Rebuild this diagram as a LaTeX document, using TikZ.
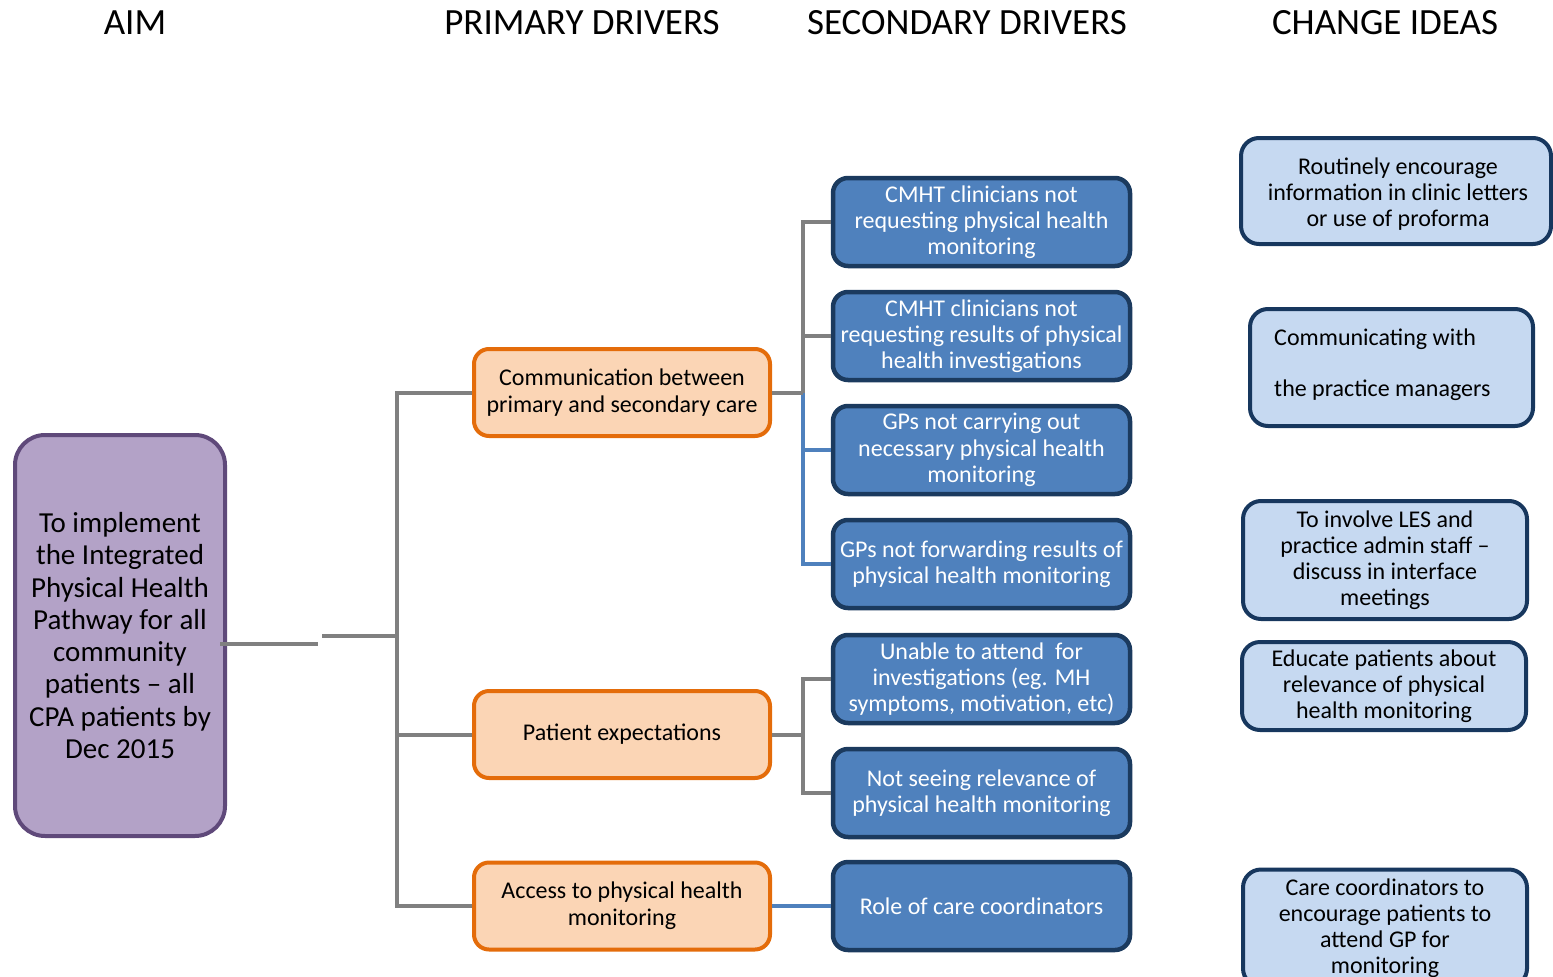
\documentclass[tikz,border=0pt]{standalone}
\usepackage{fontspec}
\setmainfont{Carlito}
\usetikzlibrary{calc}
\definecolor{aimfill}{HTML}{B3A2C7}
\definecolor{aimdraw}{HTML}{5F497A}
\definecolor{orfill}{HTML}{FBD5B5}
\definecolor{ordraw}{HTML}{E46C0A}
\definecolor{blfill}{HTML}{4F81BD}
\definecolor{bldraw}{HTML}{1B3A5E}
\definecolor{cifill}{HTML}{C6D9F1}
\definecolor{cidraw}{HTML}{17375E}
\definecolor{gline}{HTML}{808080}
\tikzset{
  hdr/.style={font=\fontsize{37}{40}\selectfont, anchor=center, inner sep=0pt},
  aimbox/.style={draw=aimdraw, fill=aimfill, line width=4pt, rounded corners=30pt,
    minimum width=210pt, minimum height=401pt, align=center,
    font=\fontsize{29}{32.3}\selectfont, inner sep=0pt},
  primbox/.style={draw=ordraw, fill=orfill, line width=4pt, rounded corners=15pt,
    minimum width=296pt, minimum height=87pt, align=center,
    font=\fontsize{24}{27}\selectfont, inner sep=0pt},
  secbox/.style={draw=bldraw, fill=blfill, line width=4.5pt, rounded corners=15pt,
    minimum width=297pt, minimum height=88pt, align=center,
    font=\fontsize{24}{26.2}\selectfont, text=white, inner sep=0pt},
  cibox/.style={draw=cidraw, fill=cifill, line width=4pt, rounded corners=18pt,
    align=center, font=\fontsize{24}{26}\selectfont, inner sep=0pt},
  gcon/.style={draw=gline, line width=4pt, line join=miter},
  bcon/.style={draw=blfill, line width=4pt, line join=miter},
}
\begin{document}
\begin{tikzpicture}[x=1pt,y=-1pt]
\useasboundingbox (0,0) rectangle (1553,977);
\clip (0,0) rectangle (1553,977);
% headers
\node[hdr] (h1) at (135,23) {AIM};
\node[hdr] (h2) at (582,23) {PRIMARY DRIVERS};
\node[hdr] (h3) at (967,23) {SECONDARY DRIVERS};
\node[hdr] (h4) at (1385,23) {CHANGE IDEAS};
% aim
\node[aimbox] (aim) at (120,635.5) {To implement\\the Integrated\\Physical Health\\Pathway for all\\community\\patients -- all\\CPA patients by\\Dec 2015};
% primary drivers
\node[primbox] (p1) at (622,392.5) {Communication between\\primary and secondary care};
\node[primbox] (p2) at (622,734.5) {Patient expectations};
\node[primbox] (p3) at (622,906) {Access to physical health\\monitoring};
% secondary drivers
\node[secbox] (s1) at (981.5,222) {CMHT clinicians not\\requesting physical health\\monitoring};
\node[secbox] (s2) at (981.5,336) {CMHT clinicians not\\requesting results of physical\\health investigations};
\node[secbox] (s3) at (981.5,450) {GPs not carrying out\\necessary physical health\\monitoring};
\node[secbox] (s4) at (981.5,564) {GPs not forwarding results of\\physical health monitoring};
\node[secbox] (s5) at (981.5,679) {Unable to attend\ \ for\\investigations (eg. MH\\symptoms, motivation, etc)};
\node[secbox] (s6) at (981.5,793) {Not seeing relevance of\\physical health monitoring};
\node[secbox] (s7) at (981.5,906) {Role of care coordinators};
% change ideas
\node[cibox, minimum width=310pt, minimum height=106pt] (c1) at (1396,191) {};
\node[font=\fontsize{24}{26}\selectfont, align=center, inner sep=0pt] (c1t) at (1398,194) {Routinely encourage\\information in clinic letters\\or use of proforma};
\node[cibox, minimum width=283pt, minimum height=117pt] (c2) at (1391.5,367.5) {};
\node[font=\fontsize{24}{26}\selectfont, align=left, anchor=west, inner sep=0pt] (c2t) at (1274,365) {Communicating with\\[25pt]the practice managers};
\node[cibox, minimum width=284pt, minimum height=118pt] (c3) at (1385,560) {To involve LES and\\practice admin staff --\\discuss in interface\\meetings};
\node[cibox, minimum width=284pt, minimum height=88pt] (c4) at (1384,686) {Educate patients about\\relevance of physical\\health monitoring};
\node[cibox, minimum width=284pt, minimum height=117pt] (c5) at (1385,928) {Care coordinators to\\encourage patients to\\attend GP for\\monitoring};
% connectors: aim to trunk
\coordinate (a0) at (220,644);
\coordinate (a1) at (318,644);
\coordinate (t0) at (322,636);
\coordinate (t1) at (397,636);
\draw[gcon] (a0) -- (a1);
\draw[gcon] (t0) -- (t1);
\draw[gcon] (t1) |- (p1.west);
\draw[gcon] (t1) |- (p3.west);
\draw[gcon] (t1) |- (p2.west);
% primary 1 to secondaries
\coordinate (j1) at ($(p1.east)+(31,0)$);
\draw[bcon] (j1) |- (s3.west);
\draw[bcon] (j1) |- (s4.west);
\draw[gcon] (p1.east) -- (j1);
\draw[gcon] (j1) |- (s1.west);
\draw[gcon] (j1) |- (s2.west);
% primary 2
\coordinate (j2) at ($(p2.east)+(31,0)$);
\draw[gcon] (p2.east) -- (j2);
\draw[gcon] (j2) |- (s5.west);
\draw[gcon] (j2) |- (s6.west);
% primary 3
\draw[bcon] (p3.east) -- (s7.west);
\end{tikzpicture}
\end{document}
